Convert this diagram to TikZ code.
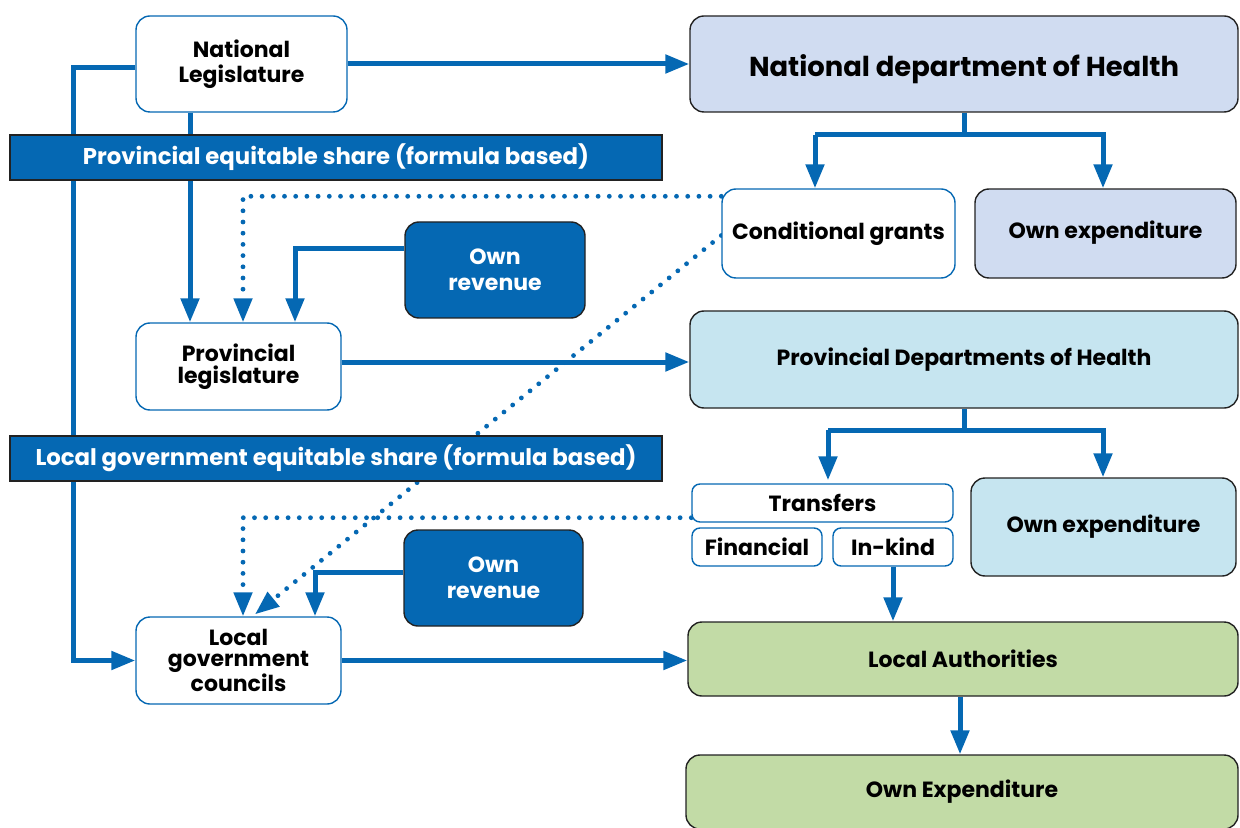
\documentclass[tikz,border=0pt]{standalone}
\usepackage{fontspec}
\setmainfont{Poppins}
\usetikzlibrary{arrows.meta,calc,backgrounds}
\definecolor{bblue}{HTML}{0568B3}
\definecolor{lav}{HTML}{D0DCF1}
\definecolor{cyanl}{HTML}{C6E5F0}
\definecolor{greenl}{HTML}{C2DBA6}
\definecolor{bord}{HTML}{222222}
\begin{document}
\begin{tikzpicture}[x=0.5pt,y=-0.5pt,
  every node/.style={font=\fontsize{11}{11}\selectfont\bfseries, align=center, inner sep=0pt},
  wbox/.style={draw=bblue, line width=0.7pt, fill=white, rounded corners=7pt},
  dbox/.style={draw=bord, line width=0.7pt, rounded corners=7pt},
  revbox/.style={draw=bord, line width=0.7pt, fill=bblue, rounded corners=7pt, text=white},
  bar/.style={draw=bord, line width=0.7pt, fill=bblue, text=white, minimum width=326pt, minimum height=22.5pt, font=\fontsize{11.4}{12}\selectfont\bfseries},
  arr/.style={draw=bblue, line width=2.5pt, -{Triangle[length=12pt,width=9pt]}},
  dotarr/.style={draw=bblue, line width=2.4pt, line cap=round, dash pattern=on 0pt off 5.6pt, -{Triangle[length=12pt,width=9pt]}},
  ln/.style={draw=bblue, line width=2.5pt}
]
\useasboundingbox (0,0) rectangle (1240,828);
% nodes
\node[wbox, minimum width=105.5pt, minimum height=48pt, font=\fontsize{11}{12.5}\selectfont\bfseries] (NL) at (241.5,64) {\raisebox{1.5pt}{National}\\\raisebox{1.5pt}{Legislature}};
\node[dbox, fill=lav, minimum width=274pt, minimum height=48pt, font=\fontsize{13.7}{15}\selectfont\bfseries] (NDH) at (964,64) {\raisebox{-1.5pt}[10pt][0pt]{National department of Health}};
\node[bar] (PES) at (336,157.5) {Provincial equitable share (formula based)};
\node[wbox, minimum width=102.5pt, minimum height=43.5pt] (PL) at (238.5,366.5) {Provincial\\legislature};
\node[revbox, minimum width=90pt, minimum height=48pt, font=\fontsize{11}{13}\selectfont\bfseries] (OR1) at (495,270) {Own\\revenue};
\node[wbox, minimum width=116.5pt, minimum height=44.5pt] (CG) at (838.5,233.5) {Conditional grants};
\node[dbox, fill=lav, minimum width=130.5pt, minimum height=44.5pt] (OE1) at (1105.5,233.5) {\raisebox{3.5pt}{Own expenditure}};
\node[dbox, fill=cyanl, minimum width=274pt, minimum height=48.5pt] (PDH) at (964,359.5) {\raisebox{2pt}{Provincial Departments of Health}};
\node[bar] (LGES) at (336,458.5) {Local government equitable share (formula based)};
\node[wbox, rounded corners=4pt, minimum width=130.5pt, minimum height=19pt] (TR) at (822.5,503) {Transfers};
\node[wbox, rounded corners=4pt, minimum width=65pt, minimum height=19pt] (FIN) at (757,547) {Financial};
\node[wbox, rounded corners=4pt, minimum width=60pt, minimum height=19pt] (INK) at (893,547) {In-kind};
\node[dbox, fill=cyanl, minimum width=132.5pt, minimum height=49pt] (OE2) at (1103.5,527) {\raisebox{3.5pt}{Own expenditure}};
\node[revbox, minimum width=89.5pt, minimum height=48pt, font=\fontsize{11}{13}\selectfont\bfseries] (OR2) at (493.5,578) {Own\\revenue};
\node[wbox, minimum width=102.5pt, minimum height=43.5pt, font=\fontsize{11}{10.5}\selectfont\bfseries] (LGC) at (238.5,660.5) {Local\\government\\councils};
\node[dbox, fill=greenl, minimum width=275pt, minimum height=37pt] (LA) at (963,659) {Local Authorities};
\node[dbox, fill=greenl, minimum width=276pt, minimum height=37pt] (OWN) at (962,792) {\raisebox{1.5pt}{Own Expenditure}};
% helper coordinates
\coordinate (xL) at (73,0);
\coordinate (xA) at (190,0);
\coordinate (xB) at (243,0);
\coordinate (xC) at (295,0);
\coordinate (xD) at (255,0);
\coordinate (xE) at (315,0);
\coordinate (xF) at (815,0);
\coordinate (xG) at (1103,0);
\coordinate (xH) at (828,0);
\coordinate (xI) at (960,0);
\coordinate (yP) at (0,362);
\coordinate (yN) at (0,135);
\coordinate (yQ) at (0,430);
% connectors
\begin{scope}[on background layer]
\draw[arr] (NL.east) -- (NDH.west);
\draw[arr] ([yshift=-2pt]NL.west) -| (xL |- LGC.west) -- (LGC.west);
\draw[arr] (NL.south -| xA) -- (PL.north -| xA);
\draw[dotarr] ($(CG.north west)+(0,8)$) -| (PL.north -| xB);
\draw[arr] ($(OR1.west)+(0,-21)$) -| (PL.north -| xC);
\draw[arr] (PL.east |- yP) -- (PDH.west |- yP);
\draw[ln] (NDH.south) -- (NDH.south |- yN);
\draw[arr] (xF |- yN) -- (CG.north -| xF);
\draw[arr] (xF |- yN) -- (xG |- yN) -- (OE1.north -| xG);
\draw[ln] (PDH.south) -- (PDH.south |- yQ);
\draw[arr] (xH |- yQ) -- ($(TR.north -| xH)+(0,-3)$);
\draw[arr] (xH |- yQ) -- (xG |- yQ) -- (OE2.north -| xG);
\draw[dotarr] ($(TR.south west)+(0,-5)$) -| (LGC.north -| xB);
\draw[dotarr] ($(CG.west)+(0,2)$) -- ($(LGC.north -| xD)+(0,-2)$);
\draw[arr] ($(OR2.west)+(0,-6)$) -| (LGC.north -| xE);
\draw[arr] (LGC.east) -- (LA.west |- LGC.east);
\draw[arr] (INK.south) -- (LA.north -| INK.south);
\draw[arr] (LA.south -| xI) -- (OWN.north -| xI);
\end{scope}
\end{tikzpicture}
\end{document}
